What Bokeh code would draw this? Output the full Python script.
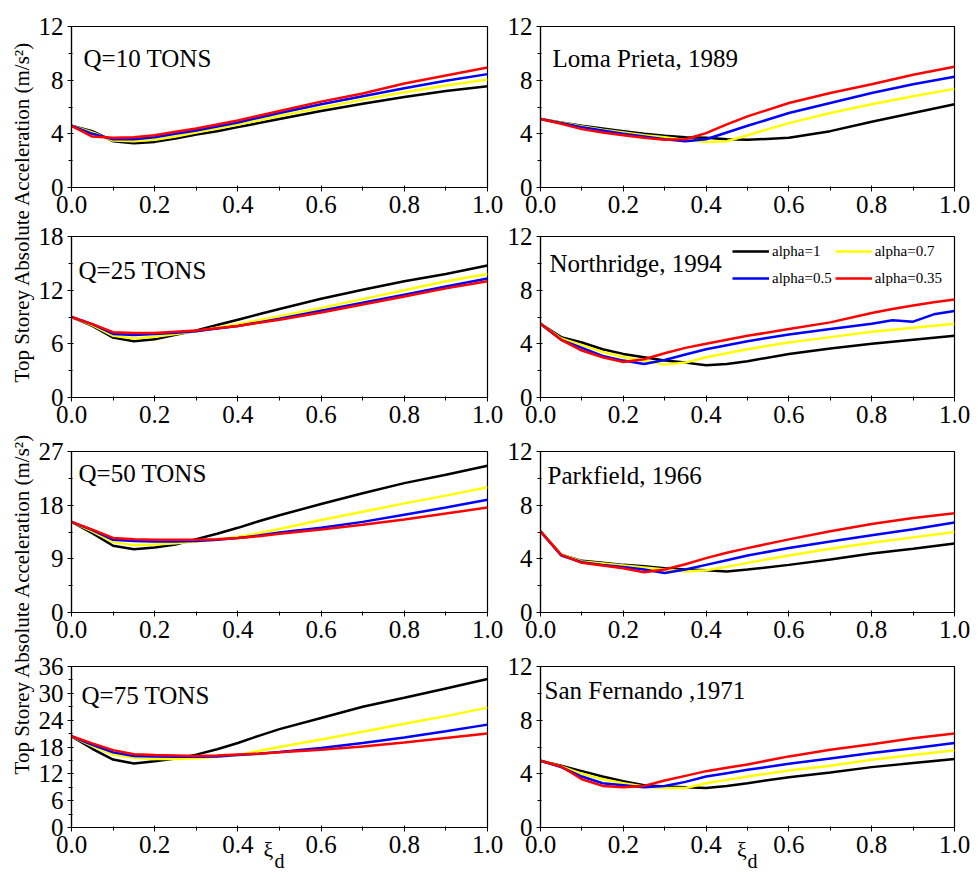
import math

from bokeh.core.properties import value
from bokeh.embed import file_html
from bokeh.layouts import column, row
from bokeh.models import (FixedTicker, Label, Legend, LegendItem, LinearAxis,
                          NumeralTickFormatter, Range1d)
from bokeh.plotting import figure
from bokeh.resources import INLINE

# ---------------------------------------------------------------- data
# damper ratio xi_d on the horizontal axis
XI = [0.0, 0.05, 0.1, 0.15, 0.2, 0.25, 0.3, 0.35, 0.4, 0.45, 0.5,
      0.6, 0.7, 0.8, 0.9, 1.0]
XI_NR = [0.0, 0.05, 0.1, 0.15, 0.2, 0.25, 0.3, 0.35, 0.4, 0.45, 0.5,
         0.6, 0.7, 0.8, 0.85, 0.9, 0.95, 1.0]

SERIES_LABELS = ["alpha=1", "alpha=0.7", "alpha=0.5", "alpha=0.35"]

X_TICKS = [0.0, 0.2, 0.4, 0.6, 0.8, 1.0]
X_MINOR = [0.1, 0.3, 0.5, 0.7, 0.9]
Y_TICKS_12 = [0, 4, 8, 12]
Y_MINOR_12 = [2, 6, 10]
Y_TICKS_18 = [0, 6, 12, 18]
Y_MINOR_18 = [3, 9, 15]
Y_TICKS_27 = [0, 9, 18, 27]
Y_MINOR_27 = [4.5, 13.5, 22.5]
Y_TICKS_36 = [0, 6, 12, 18, 24, 30, 36]
Y_MINOR_36 = [3, 9, 15, 21, 27, 33]

# Q = 10 tons
Q10_A1 = [4.6, 4.2, 3.45, 3.3, 3.4, 3.65, 3.95, 4.2, 4.5, 4.8, 5.1, 5.7, 6.25, 6.75, 7.2, 7.55]
Q10_A07 = [4.6, 4.1, 3.5, 3.45, 3.55, 3.8, 4.1, 4.4, 4.7, 5.0, 5.35, 5.95, 6.55, 7.1, 7.6, 8.05]
Q10_A05 = [4.6, 4.0, 3.6, 3.6, 3.75, 4.0, 4.25, 4.55, 4.85, 5.2, 5.55, 6.2, 6.8, 7.4, 7.95, 8.45]
Q10_A035 = [4.6, 3.8, 3.7, 3.75, 3.9, 4.15, 4.4, 4.7, 5.0, 5.35, 5.7, 6.4, 7.0, 7.75, 8.35, 8.95]

# Q = 25 tons
Q25_A1 = [9.0, 8.0, 6.7, 6.3, 6.5, 7.0, 7.5, 8.1, 8.7, 9.3, 9.9, 11.05, 12.05, 13.0, 13.8, 14.75]
Q25_A07 = [9.0, 8.1, 6.9, 6.6, 6.8, 7.1, 7.4, 7.8, 8.2, 8.65, 9.1, 10.0, 11.0, 12.0, 13.0, 13.8]
Q25_A05 = [9.0, 8.2, 7.1, 7.0, 7.1, 7.25, 7.4, 7.7, 8.0, 8.4, 8.8, 9.7, 10.6, 11.5, 12.4, 13.3]
Q25_A035 = [9.0, 8.2, 7.3, 7.2, 7.2, 7.35, 7.5, 7.75, 8.0, 8.35, 8.7, 9.5, 10.4, 11.3, 12.2, 13.0]

# Q = 50 tons
Q50_A1 = [15.2, 13.3, 11.2, 10.6, 10.9, 11.4, 12.3, 13.2, 14.2, 15.3, 16.3, 18.2, 20.0, 21.7, 23.1, 24.6]
Q50_A07 = [15.2, 13.6, 11.8, 11.3, 11.4, 11.6, 11.9, 12.2, 12.7, 13.3, 14.0, 15.5, 16.9, 18.3, 19.6, 21.0]
Q50_A05 = [15.2, 13.8, 12.2, 12.0, 11.9, 11.9, 12.0, 12.2, 12.5, 12.9, 13.4, 14.2, 15.2, 16.4, 17.6, 18.9]
Q50_A035 = [15.2, 13.9, 12.5, 12.3, 12.2, 12.2, 12.2, 12.3, 12.5, 12.8, 13.2, 13.9, 14.7, 15.6, 16.6, 17.6]

# Q = 75 tons
Q75_A1 = [20.4, 17.6, 15.2, 14.3, 14.8, 15.4, 16.3, 17.5, 18.9, 20.5, 22.0, 24.5, 27.0, 29.0, 31.1, 33.2]
Q75_A07 = [20.4, 18.2, 16.3, 15.6, 15.3, 15.3, 15.5, 15.8, 16.2, 17.1, 18.0, 19.7, 21.4, 23.2, 24.9, 26.8]
Q75_A05 = [20.4, 18.5, 16.8, 16.0, 15.9, 15.8, 15.8, 15.9, 16.2, 16.5, 16.9, 17.8, 18.9, 20.1, 21.5, 23.0]
Q75_A035 = [20.4, 18.8, 17.3, 16.4, 16.2, 16.1, 16.0, 16.1, 16.3, 16.5, 16.8, 17.4, 18.1, 19.0, 20.0, 21.0]

# Loma Prieta, 1989
LP_A1 = [5.1, 4.85, 4.6, 4.4, 4.2, 4.0, 3.85, 3.75, 3.7, 3.6, 3.55, 3.7, 4.2, 4.9, 5.55, 6.2]
LP_A07 = [5.1, 4.85, 4.55, 4.3, 4.1, 3.9, 3.75, 3.55, 3.4, 3.45, 3.9, 4.8, 5.55, 6.2, 6.8, 7.35]
LP_A05 = [5.1, 4.8, 4.5, 4.25, 4.0, 3.8, 3.6, 3.45, 3.6, 4.1, 4.6, 5.55, 6.3, 7.05, 7.7, 8.25]
LP_A035 = [5.1, 4.75, 4.35, 4.1, 3.9, 3.7, 3.55, 3.6, 4.05, 4.7, 5.3, 6.3, 7.05, 7.7, 8.4, 9.0]

# Northridge, 1994
NR_A1 = [5.5, 4.5, 4.1, 3.6, 3.25, 3.0, 2.75, 2.6, 2.4, 2.5, 2.7, 3.25, 3.65, 4.0, 4.15, 4.3, 4.45, 4.6]
NR_A07 = [5.5, 4.4, 3.9, 3.4, 3.0, 2.75, 2.45, 2.6, 3.0, 3.3, 3.6, 4.1, 4.5, 4.9, 5.05, 5.2, 5.35, 5.5]
NR_A05 = [5.5, 4.3, 3.7, 3.1, 2.75, 2.5, 2.8, 3.2, 3.6, 3.9, 4.2, 4.7, 5.1, 5.5, 5.75, 5.65, 6.2, 6.45]
NR_A035 = [5.5, 4.3, 3.5, 3.0, 2.65, 2.85, 3.3, 3.7, 4.0, 4.3, 4.6, 5.1, 5.6, 6.3, 6.6, 6.85, 7.1, 7.3]

# Parkfield, 1966
PF_A1 = [6.05, 4.3, 3.85, 3.7, 3.55, 3.45, 3.3, 3.2, 3.15, 3.05, 3.2, 3.55, 3.95, 4.4, 4.75, 5.15]
PF_A07 = [6.05, 4.3, 3.8, 3.65, 3.5, 3.35, 3.2, 3.05, 3.15, 3.4, 3.7, 4.25, 4.75, 5.2, 5.6, 6.0]
PF_A05 = [6.05, 4.25, 3.75, 3.55, 3.4, 3.2, 2.95, 3.2, 3.55, 3.9, 4.25, 4.8, 5.3, 5.75, 6.2, 6.7]
PF_A035 = [6.05, 4.3, 3.7, 3.5, 3.3, 3.0, 3.2, 3.6, 4.05, 4.45, 4.8, 5.45, 6.05, 6.6, 7.05, 7.4]

# San Fernando, 1971
SF_A1 = [4.97, 4.6, 4.2, 3.8, 3.45, 3.15, 3.05, 3.0, 2.95, 3.1, 3.3, 3.75, 4.1, 4.5, 4.8, 5.1]
SF_A07 = [4.97, 4.55, 4.0, 3.6, 3.3, 3.05, 2.95, 2.95, 3.3, 3.55, 3.8, 4.25, 4.6, 5.05, 5.4, 5.75]
SF_A05 = [4.97, 4.5, 3.8, 3.3, 3.15, 3.0, 3.1, 3.4, 3.8, 4.05, 4.3, 4.75, 5.15, 5.55, 5.9, 6.3]
SF_A035 = [4.97, 4.55, 3.6, 3.1, 3.0, 3.1, 3.5, 3.85, 4.2, 4.45, 4.7, 5.3, 5.8, 6.2, 6.65, 7.0]

Y_LABEL = "Top Storey Absolute Acceleration (m/s²)"
X_SYMBOL = "ξ"
X_SUBSCRIPT = "d"

# ---------------------------------------------------------------- style
FONT = "Liberation Serif"
COLORS = ["#000000", "#ffff00", "#0000ff", "#ff0000"]
FRAME_H = 161
ROW_TOP = [26, 12, 17, 17]
ROW_BOTTOM = [37, 37, 37, 50]
NBSP = "\u00a0"


def style_axis(ax):
    ax.axis_line_color = "black"
    ax.axis_line_width = 1.2
    ax.major_tick_line_color = "black"
    ax.minor_tick_line_color = "black"
    ax.major_tick_in = 2
    ax.major_tick_out = 4
    ax.minor_tick_in = 1
    ax.minor_tick_out = 3
    ax.major_label_text_font = FONT
    ax.major_label_text_font_size = "25px"
    ax.major_label_text_color = "black"
    ax.major_label_standoff = 4


def make_panel(x, series, yticks, yminor, title, tx, ty, left, r,
               legend=False, xi_pad=(0, 0, 0)):
    if left:
        w, bl, br = 469, 35, 17
    else:
        w, bl, br = 476, 34, 26
    top, bottom = ROW_TOP[r], ROW_BOTTOM[r]
    p = figure(width=w, height=top + FRAME_H + bottom,
               x_range=Range1d(0, 1), y_range=Range1d(0, yticks[-1]),
               output_backend="svg", toolbar_location=None,
               min_border_left=bl, min_border_right=br,
               min_border_top=top, min_border_bottom=bottom)
    p.xgrid.visible = False
    p.ygrid.visible = False
    p.outline_line_color = "black"
    p.outline_line_width = 1.2
    p.background_fill_color = "white"
    p.border_fill_color = "white"

    p.xaxis.ticker = FixedTicker(ticks=X_TICKS, minor_ticks=X_MINOR)
    p.xaxis.formatter = NumeralTickFormatter(format="0.0")
    p.yaxis.ticker = FixedTicker(ticks=yticks, minor_ticks=yminor)
    style_axis(p.xaxis[0])
    style_axis(p.yaxis[0])

    renderers = []
    for ys, color in zip(series, COLORS):
        renderers.append(p.line(x, ys, line_color=color, line_width=2.5))

    # panel caption in the upper-left corner of the frame
    p.add_layout(Label(x=tx, y=FRAME_H - ty, x_units="screen", y_units="screen",
                       text=title, text_font=FONT, text_font_size="25px",
                       text_color="black", text_baseline="alphabetic"))

    if legend:
        items = [LegendItem(label=lab, renderers=[rr])
                 for lab, rr in zip(SERIES_LABELS, renderers)]
        lg = Legend(items=items, location=(192, 107), orientation="horizontal",
                    ncols=2, border_line_color=None, background_fill_alpha=0,
                    padding=0, margin=0, spacing=3, glyph_width=37,
                    glyph_height=24, label_height=24, label_standoff=3,
                    label_text_font=FONT, label_text_font_size="15px",
                    label_text_color="black")
        p.add_layout(lg)

    if r == 3:
        # x-axis title: xi on the main axis, the lowered "d" on a bare axis below
        left_pad, right_pad, d_pad = xi_pad
        xax = p.xaxis[0]
        xax.axis_label = NBSP * left_pad + X_SYMBOL + NBSP * right_pad
        xax.axis_label_text_font = FONT
        xax.axis_label_text_font_style = "normal"
        xax.axis_label_text_font_size = "22px"
        xax.axis_label_text_color = "black"
        xax.axis_label_standoff = -19
        sub = LinearAxis(ticker=FixedTicker(ticks=[]), axis_line_color=None,
                         major_tick_line_color=None, minor_tick_line_color=None,
                         major_tick_out=0, major_tick_in=0,
                         axis_label=NBSP * d_pad + X_SUBSCRIPT,
                         axis_label_text_font=FONT,
                         axis_label_text_font_style="normal",
                         axis_label_text_font_size="20px",
                         axis_label_text_color="black",
                         axis_label_standoff=-15)
        p.add_layout(sub, "below")
    return p


p1 = make_panel(XI, [Q10_A1, Q10_A07, Q10_A05, Q10_A035], Y_TICKS_12, Y_MINOR_12,
                "Q=10 TONS", 12, 32, True, 0)
p2 = make_panel(XI, [LP_A1, LP_A07, LP_A05, LP_A035], Y_TICKS_12, Y_MINOR_12,
                "Loma Prieta, 1989", 12, 32, False, 0)
p3 = make_panel(XI, [Q25_A1, Q25_A07, Q25_A05, Q25_A035], Y_TICKS_18, Y_MINOR_18,
                "Q=25 TONS", 7, 34, True, 1)
p4 = make_panel(XI_NR, [NR_A1, NR_A07, NR_A05, NR_A035], Y_TICKS_12, Y_MINOR_12,
                "Northridge, 1994", 9, 27, False, 1, legend=True)
p5 = make_panel(XI, [Q50_A1, Q50_A07, Q50_A05, Q50_A035], Y_TICKS_27, Y_MINOR_27,
                "Q=50 TONS", 7, 22, True, 2)
p6 = make_panel(XI, [PF_A1, PF_A07, PF_A05, PF_A035], Y_TICKS_12, Y_MINOR_12,
                "Parkfield, 1966", 7, 24, False, 2)
p7 = make_panel(XI, [Q75_A1, Q75_A07, Q75_A05, Q75_A035], Y_TICKS_36, Y_MINOR_36,
                "Q=75 TONS", 10, 29, True, 3, xi_pad=(0, 4, 0))
p8 = make_panel(XI, [SF_A1, SF_A07, SF_A05, SF_A035], Y_TICKS_12, Y_MINOR_12,
                "San Fernando ,1971", 4, 24, False, 3, xi_pad=(0, 2, 2))

# shared rotated y-axis titles in a narrow strip on the left
ylab = figure(width=35, height=877, x_range=Range1d(0, 35), y_range=Range1d(0, 877),
              output_backend="svg", toolbar_location=None,
              x_axis_location=None, y_axis_location=None, min_border=0)
ylab.xgrid.visible = False
ylab.ygrid.visible = False
ylab.outline_line_color = None
ylab.text(x=[21, 21], y=[877 - 211, 877 - 603], text=[Y_LABEL, Y_LABEL],
          angle=math.pi / 2, text_align="center", text_baseline="middle",
          text_font=value(FONT), text_font_size="21px", text_color="black")

grid = column(row(p1, p2), row(p3, p4), row(p5, p6), row(p7, p8))
layout = row(ylab, grid)

open("out.html", "w").write(file_html(layout, INLINE))
